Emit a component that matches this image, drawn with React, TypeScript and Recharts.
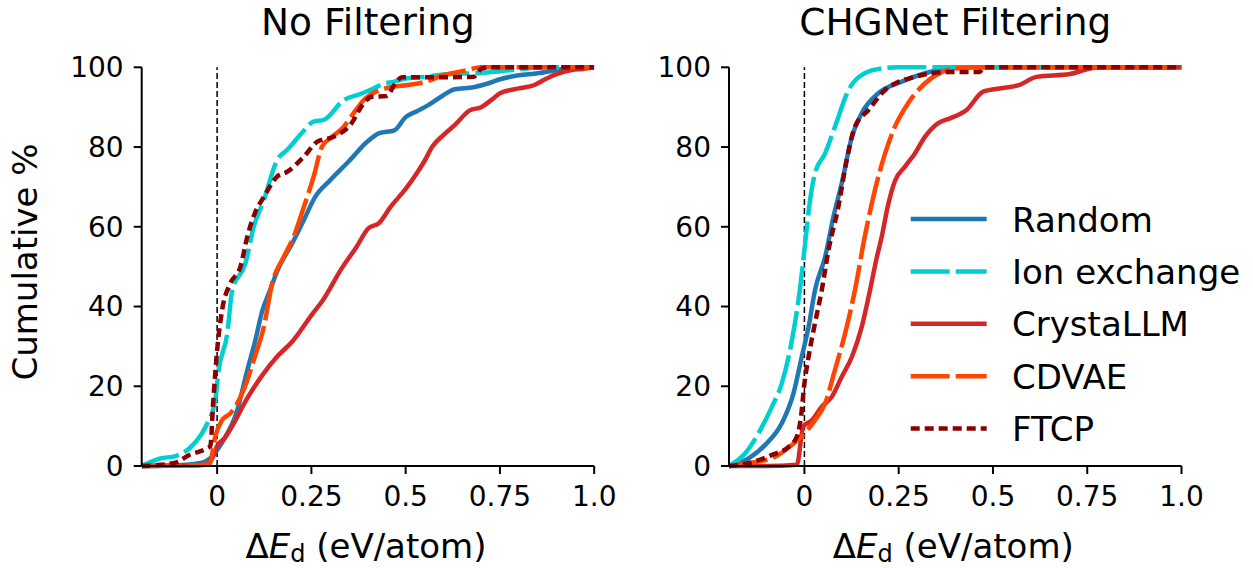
import React from 'react';
import { LineChart, Line, XAxis, YAxis, ReferenceLine } from 'recharts';

type Pt = [number, number];

// x ticks / y ticks
const xTicks = [0, 0.25, 0.5, 0.75, 1];
const xTickLabels = ['0', '0.25', '0.5', '0.75', '1.0'];
const yTicks = [0, 20, 40, 60, 80, 100];

const panelTitles = ['No Filtering', 'CHGNet Filtering'];
const seriesNames = ['Random', 'Ion exchange', 'CrystaLLM', 'CDVAE', 'FTCP'];

// --- No Filtering ---
const noRandom: Pt[] = [
  [-0.2, 0], [-0.1, 0.2], [-0.04, 0.8], [-0.02, 1.8], [0, 4], [0.02, 7], [0.05, 13], [0.08, 24],
  [0.1, 31], [0.12, 39], [0.14, 44], [0.16, 49], [0.2, 56], [0.23, 61.7], [0.26, 67.5], [0.3, 71.7],
  [0.35, 76.5], [0.4, 81.5], [0.43, 83.5], [0.47, 84.2], [0.5, 87.5], [0.53, 89], [0.56, 90.5],
  [0.6, 93], [0.63, 94.5], [0.68, 95], [0.72, 96], [0.75, 97], [0.8, 98], [0.85, 98.5], [0.9, 99.3],
  [0.95, 100], [1, 100],
];
const noIon: Pt[] = [
  [-0.2, 0], [-0.15, 1.9], [-0.11, 2.5], [-0.06, 5.7], [-0.03, 9.9], [-0.005, 16.6], [0.004, 24],
  [0.027, 33.3], [0.04, 44], [0.075, 50.8], [0.097, 60], [0.124, 66.7], [0.159, 76.7], [0.186, 79.3],
  [0.22, 83], [0.256, 86.4], [0.283, 86.8], [0.336, 91.8], [0.38, 93.3], [0.406, 94.3], [0.44, 95.8],
  [0.47, 96.4], [0.5, 97.2], [0.55, 97.6], [0.6, 98.2], [0.7, 98.6], [0.75, 99], [0.8, 99.5],
  [0.87, 100], [1, 100],
];
const noCrysta: Pt[] = [
  [-0.2, 0], [-0.1, 0.1], [-0.03, 0.3], [-0.01, 2.5], [0, 5], [0.02, 7], [0.04, 10], [0.08, 17],
  [0.12, 22.8], [0.16, 27.5], [0.2, 31.3], [0.25, 37.8], [0.28, 41.5], [0.33, 49.5], [0.37, 55],
  [0.4, 59.5], [0.43, 61], [0.46, 65], [0.5, 69.5], [0.53, 73.5], [0.55, 76.5], [0.57, 80],
  [0.6, 83], [0.63, 85.5], [0.67, 89.2], [0.7, 90], [0.73, 92], [0.75, 93.5], [0.8, 94.7],
  [0.84, 95.5], [0.87, 97], [0.9, 98.3], [0.94, 99.3], [0.97, 99.6], [1, 100],
];
const noCdvae: Pt[] = [
  [-0.2, 0], [-0.05, 0.2], [-0.02, 0.5], [-0.005, 7.4], [0.013, 11.5], [0.035, 13.2], [0.07, 19],
  [0.1, 27.4], [0.124, 34.9], [0.146, 45.8], [0.177, 52.5], [0.203, 57.5], [0.23, 65], [0.256, 72.6],
  [0.278, 80.1], [0.3, 82.2], [0.336, 85.1], [0.362, 88.5], [0.389, 91.8], [0.406, 93.1],
  [0.45, 94.8], [0.5, 95.5], [0.55, 96.3], [0.6, 98], [0.65, 99], [0.7, 100], [1, 100],
];
const noFtcp: Pt[] = [
  [-0.2, 0], [-0.15, 0.3], [-0.106, 1], [-0.075, 2.7], [-0.03, 4.3], [-0.018, 5], [-0.01, 16.6],
  [0, 29], [0.013, 39], [0.035, 45.8], [0.062, 50], [0.08, 57.5], [0.1, 63.4], [0.124, 67.5],
  [0.159, 72.6], [0.186, 73.8], [0.23, 77.6], [0.265, 81.3], [0.309, 82.6], [0.353, 85.5],
  [0.389, 91], [0.41, 92.6], [0.45, 92.8], [0.47, 95.6], [0.49, 97.5], [0.6, 97.5], [0.68, 97.6],
  [0.7, 99.6], [0.72, 100], [1, 100],
];

// --- CHGNet Filtering ---
const chRandom: Pt[] = [
  [-0.2, 0], [-0.148, 1.9], [-0.104, 5.3], [-0.06, 10.7], [-0.029, 18.2], [-0.007, 27.4],
  [0.011, 34.9], [0.028, 44.1], [0.055, 52.5], [0.077, 62.5], [0.099, 70.9], [0.126, 82.6],
  [0.152, 88.5], [0.196, 93.5], [0.258, 96.4], [0.32, 98.5], [0.381, 99.7], [0.45, 100], [1, 100],
];
const chIon: Pt[] = [
  [-0.2, 0], [-0.157, 3.2], [-0.122, 8.2], [-0.086, 14.9], [-0.06, 20.7], [-0.033, 31.6],
  [-0.011, 45], [0.002, 55.9], [0.015, 66.7], [0.028, 73.4], [0.055, 78.4], [0.081, 85.1],
  [0.117, 94.3], [0.16, 98.5], [0.205, 99.7], [0.25, 100], [1, 100],
];
const chCrysta: Pt[] = [
  [-0.2, 0], [-0.1, 0], [-0.02, 0.3], [-0.003, 9.9], [0.02, 11.5], [0.046, 14.9], [0.073, 17.4],
  [0.099, 22.4], [0.126, 27.4], [0.152, 34.9], [0.174, 44.1], [0.19, 51.5], [0.205, 57.5],
  [0.222, 65.5], [0.24, 71.5], [0.267, 75.1], [0.293, 78.4], [0.32, 82.6], [0.355, 86],
  [0.386, 87.2], [0.43, 89.3], [0.474, 93.9], [0.518, 94.7], [0.571, 95.6], [0.615, 97.6],
  [0.704, 98.3], [0.757, 99.7], [0.78, 100], [1, 100],
];
const chCdvae: Pt[] = [
  [-0.2, 0], [-0.148, 0.7], [-0.078, 2.3], [-0.033, 5.3], [0, 8.2], [0.028, 11.5], [0.055, 15.7],
  [0.081, 24.1], [0.108, 33.3], [0.134, 44.1], [0.16, 57.5], [0.187, 69.2], [0.214, 78.4],
  [0.24, 85.1], [0.275, 91], [0.32, 96], [0.364, 98.8], [0.4, 99.7], [0.45, 100], [1, 100],
];
const chFtcp: Pt[] = [
  [-0.2, 0], [-0.148, 0.7], [-0.086, 2.8], [-0.042, 4.8], [-0.02, 7.4], [-0.009, 12.4], [0, 20.7],
  [0.011, 27.4], [0.028, 35.8], [0.046, 44.1], [0.064, 54.2], [0.09, 65], [0.112, 76.7],
  [0.134, 85.1], [0.17, 89.3], [0.214, 94.3], [0.293, 97.6], [0.381, 98.8], [0.465, 98.8],
  [0.475, 100], [1, 100],
];

const FONT = 'DejaVu Sans';

const styles = [
  { color: '#1f77b4', dash: undefined as string | undefined },
  { color: '#00CED1', dash: '39 6' },
  { color: '#d62728', dash: undefined },
  { color: '#FF4500', dash: '39 6' },
  { color: '#8B0000', dash: '9 5' },
];

const toPts = (arr: Pt[]) => arr.map(([x, y]) => ({ x, y }));

const panels = [
  [noRandom, noIon, noCrysta, noCdvae, noFtcp],
  [chRandom, chIon, chCrysta, chCdvae, chFtcp],
];

// plot area geometry (px)
const PLOT_TOP = 67.3;
const PLOT_BOTTOM = 466;
const PLOT_LEFTS = [141.7, 729];
const PLOT_W = 452.5;
const CHART_LEFTS = [0, 620];
const CHART_WIDTHS = [620, 633];
const H = 568;

const Panel: React.FC<{ idx: number }> = ({ idx }) => {
  const yw = PLOT_LEFTS[idx] - CHART_LEFTS[idx];
  const right = CHART_WIDTHS[idx] - yw - PLOT_W;
  const tick = { fontSize: 28, fill: '#000', fontFamily: FONT };
  return (
    <div style={{ position: 'absolute', left: CHART_LEFTS[idx], top: 0 }}>
      <LineChart
        width={CHART_WIDTHS[idx]}
        height={H}
        margin={{ top: PLOT_TOP, right, bottom: 0, left: 0 }}
      >
        <XAxis
          type="number"
          dataKey="x"
          domain={[-0.2, 1]}
          allowDataOverflow
          ticks={xTicks}
          interval={0}
          tickFormatter={(v: number) => xTickLabels[xTicks.indexOf(v)] ?? String(v)}
          height={H - PLOT_BOTTOM}
          tick={tick}
          tickSize={8}
          tickMargin={12}
          axisLine={{ stroke: '#000', strokeWidth: 2 }}
          tickLine={{ stroke: '#000', strokeWidth: 2 }}
        />
        <YAxis
          type="number"
          domain={[0, 100]}
          ticks={yTicks}
          interval={0}
          width={yw}
          tick={tick}
          tickSize={8}
          tickMargin={10}
          axisLine={{ stroke: '#000', strokeWidth: 2 }}
          tickLine={{ stroke: '#000', strokeWidth: 2 }}
        />
        <ReferenceLine x={0} stroke="#000" strokeWidth={1.5} strokeDasharray="6 3" />
        {panels[idx].map((s, i) => (
          <Line
            key={seriesNames[i]}
            data={toPts(s)}
            dataKey="y"
            name={seriesNames[i]}
            type="monotone"
            stroke={styles[i].color}
            strokeWidth={4.5}
            strokeDasharray={styles[i].dash}
            dot={false}
            activeDot={false}
            isAnimationActive={false}
          />
        ))}
      </LineChart>
    </div>
  );
};

const Overlay: React.FC = () => (
  <svg
    width={1253}
    height={H}
    style={{ position: 'absolute', left: 0, top: 0, pointerEvents: 'none' }}
    fontFamily={FONT}
  >
    {panelTitles.map((t, i) => (
      <text key={t} x={PLOT_LEFTS[i] + PLOT_W / 2} y={35} textAnchor="middle" fontSize={37.5} fill="#000">
        {t}
      </text>
    ))}
    {[0, 1].map((i) => (
      <text key={i} x={PLOT_LEFTS[i] + PLOT_W / 2 - 2} y={558} textAnchor="middle" fontSize={34} fill="#000">
        Δ<tspan fontStyle="italic">E</tspan>
        <tspan fontSize={24} dy={4}>d</tspan>
        <tspan dy={-4}> (eV/atom)</tspan>
      </text>
    ))}
    <text
      x={0}
      y={0}
      transform="translate(37,262) rotate(-90)"
      textAnchor="middle"
      fontSize={34}
      fill="#000"
    >
      Cumulative %
    </text>
    {seriesNames.map((n, i) => {
      const y = 219 + i * 52.4;
      return (
        <g key={n}>
          <line
            x1={910.7}
            x2={986.7}
            y1={y}
            y2={y}
            stroke={styles[i].color}
            strokeWidth={4.5}
            strokeDasharray={styles[i].dash}
          />
          <text x={1012} y={y + 12.5} fontSize={34} fill="#000">
            {n}
          </text>
        </g>
      );
    })}
  </svg>
);

export default function App() {
  return (
    <div style={{ position: 'absolute', left: 0, top: 0, width: 1253, height: H, background: '#fff' }}>
      <Panel idx={0} />
      <Panel idx={1} />
      <Overlay />
    </div>
  );
}
